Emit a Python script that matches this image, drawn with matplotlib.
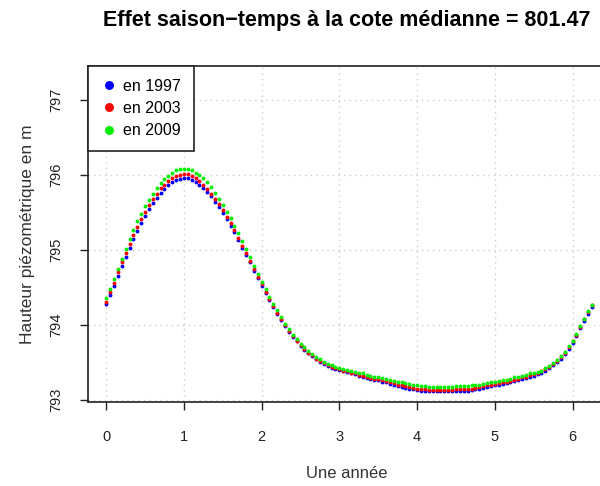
import matplotlib
matplotlib.use("Agg")
import matplotlib.pyplot as plt

plt.rcParams['font.family'] = ['Liberation Sans', 'DejaVu Sans']

# position dans l'année (0 .. 2*pi)
x = [0.00, 0.05, 0.10, 0.15, 0.20, 0.25, 0.30, 0.35, 0.40, 0.45,
     0.50, 0.55, 0.60, 0.65, 0.70, 0.75, 0.80, 0.85, 0.90, 0.95,
     1.00, 1.05, 1.10, 1.15, 1.20, 1.25, 1.30, 1.35, 1.40, 1.45,
     1.50, 1.55, 1.60, 1.65, 1.70, 1.75, 1.80, 1.85, 1.90, 1.95,
     2.00, 2.05, 2.10, 2.15, 2.20, 2.25, 2.30, 2.35, 2.40, 2.45,
     2.50, 2.55, 2.60, 2.65, 2.70, 2.75, 2.80, 2.85, 2.90, 2.95,
     3.00, 3.05, 3.10, 3.15, 3.20, 3.25, 3.30, 3.35, 3.40, 3.45,
     3.50, 3.55, 3.60, 3.65, 3.70, 3.75, 3.80, 3.85, 3.90, 3.95,
     4.00, 4.05, 4.10, 4.15, 4.20, 4.25, 4.30, 4.35, 4.40, 4.45,
     4.50, 4.55, 4.60, 4.65, 4.70, 4.75, 4.80, 4.85, 4.90, 4.95,
     5.00, 5.05, 5.10, 5.15, 5.20, 5.25, 5.30, 5.35, 5.40, 5.45,
     5.50, 5.55, 5.60, 5.65, 5.70, 5.75, 5.80, 5.85, 5.90, 5.95,
     6.00, 6.05, 6.10, 6.15, 6.20, 6.25]

h1997 = [794.28, 794.40, 794.52, 794.65, 794.78, 794.90, 795.02, 795.14, 795.25, 795.35,
         795.45, 795.54, 795.62, 795.69, 795.76, 795.81, 795.86, 795.90, 795.93, 795.94,
         795.95, 795.95, 795.93, 795.90, 795.87, 795.82, 795.77, 795.71, 795.64, 795.57,
         795.49, 795.41, 795.32, 795.23, 795.13, 795.03, 794.93, 794.83, 794.72, 794.62,
         794.52, 794.42, 794.33, 794.24, 794.15, 794.06, 793.98, 793.91, 793.84, 793.78,
         793.72, 793.67, 793.62, 793.58, 793.54, 793.51, 793.48, 793.45, 793.43, 793.41,
         793.40, 793.38, 793.37, 793.35, 793.34, 793.32, 793.31, 793.29, 793.28, 793.27,
         793.26, 793.24, 793.23, 793.21, 793.20, 793.18, 793.17, 793.16, 793.15, 793.14,
         793.13, 793.12, 793.12, 793.11, 793.11, 793.11, 793.11, 793.11, 793.11, 793.11,
         793.12, 793.12, 793.12, 793.12, 793.13, 793.14, 793.15, 793.16, 793.17, 793.18,
         793.19, 793.20, 793.21, 793.22, 793.23, 793.25, 793.26, 793.28, 793.29, 793.31,
         793.32, 793.34, 793.36, 793.39, 793.42, 793.46, 793.50, 793.55, 793.61, 793.68,
         793.76, 793.85, 793.95, 794.05, 794.15, 794.24]

h2003 = [794.31, 794.44, 794.56, 794.70, 794.83, 794.95, 795.08, 795.20, 795.31, 795.41,
         795.51, 795.60, 795.68, 795.75, 795.82, 795.87, 795.92, 795.96, 795.99, 796.00,
         796.01, 796.01, 795.99, 795.96, 795.92, 795.87, 795.81, 795.75, 795.68, 795.61,
         795.53, 795.44, 795.35, 795.26, 795.16, 795.05, 794.95, 794.85, 794.74, 794.64,
         794.54, 794.44, 794.34, 794.25, 794.16, 794.07, 793.99, 793.92, 793.85, 793.79,
         793.73, 793.68, 793.63, 793.59, 793.55, 793.52, 793.49, 793.46, 793.44, 793.42,
         793.41, 793.39, 793.38, 793.36, 793.35, 793.33, 793.32, 793.30, 793.29, 793.28,
         793.28, 793.26, 793.25, 793.23, 793.22, 793.20, 793.19, 793.18, 793.17, 793.16,
         793.15, 793.14, 793.14, 793.13, 793.13, 793.13, 793.13, 793.13, 793.13, 793.13,
         793.14, 793.14, 793.14, 793.14, 793.15, 793.16, 793.17, 793.18, 793.19, 793.20,
         793.21, 793.22, 793.23, 793.24, 793.25, 793.27, 793.28, 793.30, 793.31, 793.33,
         793.34, 793.36, 793.38, 793.41, 793.44, 793.48, 793.52, 793.57, 793.63, 793.70,
         793.78, 793.87, 793.97, 794.07, 794.17, 794.26]

h2009 = [794.35, 794.48, 794.61, 794.75, 794.88, 795.01, 795.14, 795.27, 795.38, 795.48,
         795.58, 795.67, 795.75, 795.82, 795.89, 795.94, 795.99, 796.03, 796.06, 796.07,
         796.08, 796.08, 796.06, 796.03, 796.00, 795.95, 795.90, 795.83, 795.76, 795.68,
         795.60, 795.51, 795.42, 795.32, 795.22, 795.12, 795.01, 794.90, 794.79, 794.68,
         794.57, 794.47, 794.37, 794.28, 794.19, 794.10, 794.01, 793.94, 793.87, 793.81,
         793.75, 793.70, 793.65, 793.61, 793.57, 793.54, 793.51, 793.48, 793.46, 793.44,
         793.43, 793.41, 793.40, 793.38, 793.37, 793.36, 793.35, 793.33, 793.32, 793.31,
         793.30, 793.29, 793.28, 793.26, 793.25, 793.24, 793.23, 793.22, 793.21, 793.20,
         793.19, 793.18, 793.18, 793.17, 793.17, 793.17, 793.17, 793.17, 793.17, 793.17,
         793.18, 793.18, 793.18, 793.18, 793.19, 793.20, 793.20, 793.21, 793.22, 793.23,
         793.24, 793.25, 793.26, 793.27, 793.28, 793.30, 793.31, 793.32, 793.33, 793.35,
         793.36, 793.37, 793.39, 793.42, 793.45, 793.49, 793.53, 793.58, 793.64, 793.71,
         793.79, 793.88, 793.98, 794.08, 794.18, 794.27]

years = ['en 1997', 'en 2003', 'en 2009']
couleurs = ['#0000ff', '#ff0000', '#00ee00']
x_ticks = [0, 1, 2, 3, 4, 5, 6]
y_ticks = [793, 794, 795, 796, 797]

fig = plt.figure(figsize=(6.0, 4.86), dpi=100)
ax = fig.add_axes([88/600, 1 - 402/486, 1 - 88/600 + 0.01, (402 - 66)/486])

for serie, coul, lab in zip([h1997, h2003, h2009], couleurs, years):
    ax.plot(x, serie, linestyle='none', marker='o', markersize=2.8,
            markeredgewidth=0, color=coul, label=lab)

ax.set_xlim(-0.234, 6.43)
ax.set_ylim(792.97, 797.45)
ax.set_xticks(x_ticks)
ax.set_yticks(y_ticks)
ax.set_yticklabels([str(v) for v in y_ticks], rotation=90, va='center')
ax.tick_params(direction='out', length=6, width=1, labelsize=10.5, pad=14, colors='#222222')
ax.tick_params(axis='y', pad=12)
ax.grid(True, color='#cccccc', linestyle=(0, (1, 3)), linewidth=1)
for s in ax.spines.values():
    s.set_linewidth(1.2)
    s.set_color('#222222')
ax.spines['right'].set_visible(False)

ax.set_xlabel('Une année', fontsize=12, labelpad=16, color='#333333')
ax.set_ylabel('Hauteur piézométrique en m', fontsize=12.5, labelpad=10, color='#333333')

fig.text(0.578, 0.958, 'Effet saison\u2212temps à la cote médianne = 801.47',
         ha='center', va='center', fontsize=15.5, fontweight='bold')

leg = ax.legend(loc='upper left', bbox_to_anchor=(0, 1), borderaxespad=0,
                fancybox=False, edgecolor='#222222', framealpha=1,
                fontsize=11.5, handletextpad=0.4, markerscale=2.3,
                borderpad=0.8, labelspacing=0.45, handlelength=1.0)
leg.get_frame().set_linewidth(1.2)

fig.savefig('out.png', dpi=100)
